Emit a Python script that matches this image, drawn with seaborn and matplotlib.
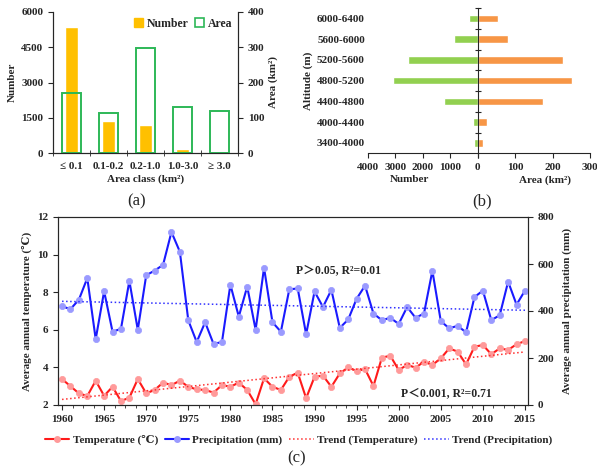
import numpy as np
import pandas as pd
import matplotlib
matplotlib.use('Agg')
import matplotlib.pyplot as plt
import seaborn as sns
from matplotlib.patches import Patch
from matplotlib.lines import Line2D
from matplotlib.ticker import MultipleLocator

# (a) glacier area classes
area_classes = ['≤ 0.1', '0.1-0.2', '0.2-1.0', '1.0-3.0', '≥ 3.0']
class_number = [5360, 1380, 1200, 170, 50]
class_area = [169, 115, 298, 131, 120]

# (b) altitude zones
altitudes = ['6000-6400', '5600-6000', '5200-5600', '4800-5200',
             '4400-4800', '4000-4400', '3400-4000']
alt_number = [330, 850, 2520, 3090, 1220, 160, 130]
alt_area = [53, 82, 228, 252, 175, 24, 15]

# (c) climate series
years = list(range(1960, 2016))
temperature = [3.38, 3.00, 2.62, 2.48, 3.29, 2.49, 2.97, 2.21, 2.39, 3.38,
               2.62, 2.80, 3.19, 3.06, 3.29, 2.97, 2.83, 2.80, 2.66, 3.06,
               2.97, 3.19, 2.80, 2.04, 3.42, 2.97, 2.80, 3.50, 3.72, 2.36,
               3.50, 3.56, 2.97, 3.68, 4.00, 3.81, 3.91, 3.01, 4.52, 4.62,
               3.86, 4.13, 3.99, 4.30, 4.13, 4.48, 5.01, 4.84, 4.16, 5.10,
               5.19, 4.70, 5.01, 4.93, 5.23, 5.40]
precipitation = [420, 408, 448, 540, 280, 484, 312, 324, 528, 320,
                 552, 572, 596, 736, 652, 360, 268, 352, 260, 268,
                 512, 376, 504, 320, 584, 352, 312, 492, 496, 301,
                 483, 417, 490, 328, 364, 452, 508, 389, 361, 371,
                 345, 417, 371, 389, 571, 357, 326, 337, 309, 459,
                 487, 361, 382, 525, 427, 487]

sns.set_style('ticks')
plt.rcParams['font.family'] = ['Liberation Serif', 'DejaVu Serif', 'Noto Sans CJK SC']
plt.rcParams['font.weight'] = 'bold'
plt.rcParams['axes.labelweight'] = 'bold'
plt.rcParams['font.size'] = 8
plt.rcParams['axes.linewidth'] = 0.8
plt.rcParams['xtick.major.width'] = 0.8
plt.rcParams['ytick.major.width'] = 0.8

W, H = 597, 467
fig = plt.figure(figsize=(W / 100, H / 100), dpi=100)


def box(l, t, r, b):
    return [l / W, 1 - b / H, (r - l) / W, (b - t) / H]


# ---------- (a) ----------
axA = fig.add_axes(box(53, 11.7, 238, 153.3))
df_cls = pd.DataFrame({'cls': area_classes, 'number': class_number, 'area': class_area})
sns.barplot(data=df_cls, x='cls', y='number', ax=axA, color='#FFC000',
            width=0.36, saturation=1)
axA2 = axA.twinx()
sns.barplot(data=df_cls, x='cls', y='area', ax=axA2, color='#2DB857',
            width=0.52, saturation=1, fill=False, linewidth=1.4)
axA.set_ylim(0, 6000)
axA.set_yticks([0, 1500, 3000, 4500, 6000])
axA2.set_ylim(0, 400)
axA2.set_yticks([0, 100, 200, 300, 400])
axA.set_xlim(-0.5, 4.5)
axA.tick_params(axis='x', which='major', length=0, pad=6)
axA.set_xticks(np.arange(-0.5, 5, 1), minor=True)
axA.tick_params(axis='x', which='minor', direction='inout', length=5)
axA.set_xlabel('Area class (km²)', labelpad=3)
axA.set_ylabel('Number', labelpad=3)
axA2.set_ylabel('Area (km²)', labelpad=3)
axA.spines['top'].set_visible(False)
axA2.spines['top'].set_visible(False)
axA.legend(handles=[Patch(facecolor='#FFC000', edgecolor='#FFC000', label='Number'),
                    Patch(facecolor='white', edgecolor='#2DB857', lw=1.2, label='Area')],
           loc='upper right', ncol=2, frameon=False, handlelength=0.8, handleheight=0.8,
           handletextpad=0.3, columnspacing=0.5, borderaxespad=0.1, fontsize=8.5)

# ---------- (b) ----------
axL = fig.add_axes(box(367.7, 8, 477.7, 153.3))
axR = fig.add_axes(box(477.7, 8, 590, 153.3))
df_alt = pd.DataFrame({'alt': altitudes, 'number': alt_number, 'area': alt_area})
sns.barplot(data=df_alt, x='number', y='alt', ax=axL, color='#92D050',
            width=0.36, saturation=1, orient='h')
sns.barplot(data=df_alt, x='area', y='alt', ax=axR, color='#F79646',
            width=0.36, saturation=1, orient='h')
axL.set_xlim(4000, 0)
axR.set_xlim(0, 300)
for ax in (axL, axR):
    ax.set_ylim(6.5, -0.5)
    ax.spines['top'].set_visible(False)
    ax.spines['right'].set_visible(False)
axL.spines['left'].set_visible(False)
axL.set_xticks([4000, 3000, 2000, 1000, 0])
axR.set_xticks([0, 100, 200, 300])
axR.set_xticklabels(['', '100', '200', '300'])
axL.tick_params(axis='y', length=0, pad=2)
axR.set_yticks(np.arange(-0.5, 6.5, 1))
axR.set_yticklabels([])
axR.tick_params(axis='y', direction='inout', length=5)
axL.set_xlabel('Number', labelpad=0)
axR.set_xlabel('Area (km²)', labelpad=0)
axL.xaxis.set_label_coords(0.38, -0.15)
axR.xaxis.set_label_coords(0.6, -0.15)
axR.set_ylabel('')
axL.set_ylabel('Altitude (m)', labelpad=3)

# ---------- (c) ----------
axC = fig.add_axes(box(58, 217, 528, 405))
axC2 = axC.twinx()
sns.lineplot(x=years, y=temperature, ax=axC, color='#FF1A1A', lw=1.5,
             marker='o', markersize=4.5, mfc='#FF9A9A', mec='#FF9A9A', mew=0.5)
sns.regplot(x=years, y=temperature, ax=axC, scatter=False, ci=None,
            line_kws=dict(color='#FF3030', ls=':', lw=1.1))
sns.lineplot(x=years, y=precipitation, ax=axC2, color='#1A1AFF', lw=1.5,
             marker='o', markersize=4.5, mfc='#9A9AFF', mec='#9A9AFF', mew=0.5)
sns.regplot(x=years, y=precipitation, ax=axC2, scatter=False, ci=None,
            line_kws=dict(color='#3030FF', ls=':', lw=1.1))
axC.set_xlim(1959.52, 2015.36)
axC.set_ylim(2, 12)
axC.set_yticks([2, 4, 6, 8, 10, 12])
axC2.set_ylim(0, 800)
axC2.set_yticks([0, 200, 400, 600, 800])
axC.set_xticks(range(1960, 2016, 5))
axC.xaxis.set_minor_locator(MultipleLocator(1.25))
axC.tick_params(axis='x', which='minor', length=2)
axC.set_xlabel('')
axC.set_ylabel('Average annual temperature (℃)', labelpad=4)
axC2.set_ylabel('Average annual precipitation (mm)', labelpad=6)
axC.text(1992.8, 9.18, 'P＞0.05, R²=0.01', ha='center', va='center', fontsize=8.5)
axC.text(2005.7, 2.64, 'P＜0.001, R²=0.71', ha='center', va='center', fontsize=8.5)

handles = [
    Line2D([], [], color='#FF1A1A', lw=1.5, marker='o', markersize=4, mfc='#FF9A9A', mec='#FF9A9A'),
    Line2D([], [], color='#1A1AFF', lw=1.5, marker='o', markersize=4, mfc='#9A9AFF', mec='#9A9AFF'),
    Line2D([], [], color='#FF3030', lw=1.1, ls=':'),
    Line2D([], [], color='#3030FF', lw=1.1, ls=':'),
]
labels = ['Temperature (℃)', 'Precipitation (mm)', 'Trend (Temperature)', 'Trend (Precipitation)']
fig.legend(handles, labels, loc='center', bbox_to_anchor=(0.5, 1 - 440 / H), ncol=4,
           frameon=False, fontsize=8, handlelength=2.2, handletextpad=0.3,
           columnspacing=0.6)

cap = dict(fontsize=12, fontweight='normal', ha='center', va='center')
fig.text(137 / W, 1 - 201 / H, '(a)', **cap)
fig.text(482 / W, 1 - 201 / H, '(b)', **cap)
fig.text(297 / W, 1 - 458 / H, '(c)', **cap)

fig.savefig('out.png', dpi=100)
